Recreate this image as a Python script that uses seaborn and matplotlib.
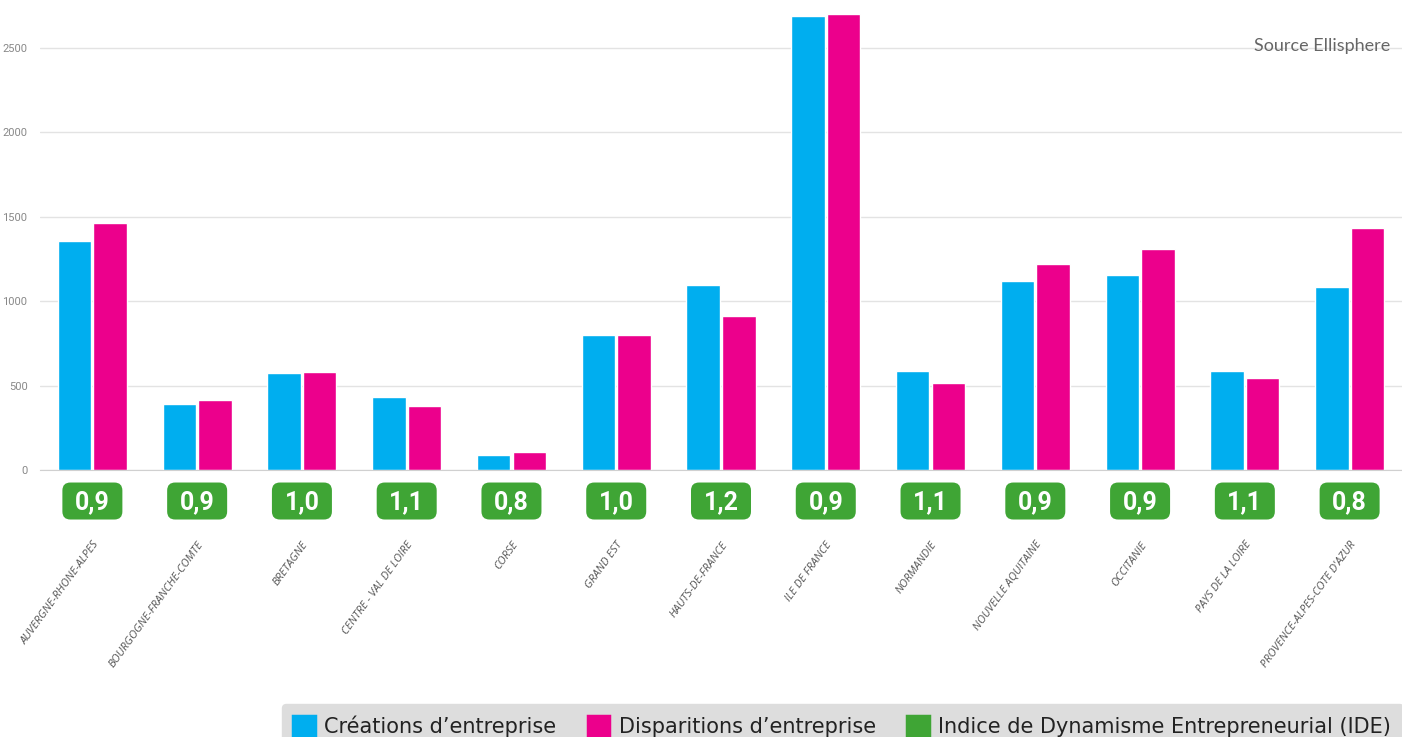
import matplotlib
matplotlib.use("Agg")
import matplotlib.pyplot as plt
from matplotlib.patches import Patch, FancyBboxPatch
from matplotlib.transforms import ScaledTranslation
import seaborn as sns
import pandas as pd

regions = ["AUVERGNE-RHONE-ALPES", "BOURGOGNE-FRANCHE-COMTE", "BRETAGNE",
           "CENTRE - VAL DE LOIRE", "CORSE", "GRAND EST", "HAUTS-DE-FRANCE",
           "ILE DE FRANCE", "NORMANDIE", "NOUVELLE AQUITAINE", "OCCITANIE",
           "PAYS DE LA LOIRE", "PROVENCE-ALPES-COTE D'AZUR"]
creations = [1357, 391, 575, 432, 89, 802, 1096, 2690, 586, 1120, 1155, 586, 1084]
disparitions = [1463, 415, 580, 379, 107, 799, 912, 2701, 515, 1220, 1309, 545, 1434]
ide = ["0,9", "0,9", "1,0", "1,1", "0,8", "1,0", "1,2", "0,9", "1,1", "0,9", "0,9", "1,1", "0,8"]

lab_crea = "Créations d’entreprise"
lab_disp = "Disparitions d’entreprise"
lab_ide = "Indice de Dynamisme Entrepreneurial (IDE)"
c_blue = "#00AEEF"
c_pink = "#EC008C"
c_green = "#3FA535"
narrow = ["Liberation Sans Narrow", "Roboto"]

df = pd.DataFrame({
    "region": regions * 2,
    "valeur": creations + disparitions,
    "serie": [lab_crea] * len(regions) + [lab_disp] * len(regions),
})

sns.set_style("white")
fig = plt.figure(figsize=(14.02, 7.37), dpi=100)
ax = fig.add_axes([40 / 1402, 1 - 470 / 737, 1 - 40 / 1402, 470 / 737])

sns.barplot(data=df, x="region", y="valeur", hue="serie", order=regions,
            palette=[c_blue, c_pink], width=0.68, gap=0.06, ax=ax,
            legend=False, saturation=1)

ax.set_xlim(-0.5, len(regions) - 0.5)
ax.set_ylim(0, 2784)
ax.set_yticks([0, 500, 1000, 1500, 2000, 2500])
ax.grid(axis="y", color="#e3e3e3", linewidth=1)
ax.set_axisbelow(True)
for s in ["top", "right", "left"]:
    ax.spines[s].set_visible(False)
ax.spines["bottom"].set_color("#d0d0d0")
ax.set_xlabel("")
ax.set_ylabel("")
ax.tick_params(axis="y", length=0, pad=9, labelcolor="#888888")
for t in ax.get_yticklabels():
    t.set_family(narrow)
    t.set_fontsize(8)
ax.tick_params(axis="x", length=0, pad=50)
ax.set_xticks(range(len(regions)))
ax.set_xticklabels(regions, rotation=54, ha="right", rotation_mode="anchor",
                   fontsize=8, style="italic", color="#555555", family="Open Sans")

# IDE badges under each group (fixed pixel size, centred under each region)
for i, v in enumerate(ide):
    trans = fig.dpi_scale_trans + ScaledTranslation(i, -0.066, ax.get_xaxis_transform())
    badge = FancyBboxPatch((-0.30, -0.185), 0.60, 0.37,
                           boxstyle="round,pad=0,rounding_size=0.08",
                           fc=c_green, ec="none", transform=trans, clip_on=False)
    ax.add_patch(badge)
    ax.text(i, -0.068, v, transform=ax.get_xaxis_transform(), ha="center", va="center",
            fontsize=18, fontweight="bold", color="white", family=narrow)

fig.text(1390 / 1402, 1 - 46 / 737, "Source Ellisphere", ha="right", va="center",
         fontsize=13, color="#666666", family="Lato")

handles = [Patch(facecolor=c, edgecolor=c, linewidth=2.5, joinstyle="round")
           for c in [c_blue, c_pink, c_green]]
leg = fig.legend(handles, [lab_crea, lab_disp, lab_ide], loc="lower right",
                 bbox_to_anchor=(1.008, -0.03), ncol=3, fontsize=15, frameon=True,
                 facecolor="#dddddd", edgecolor="#dddddd", framealpha=1, fancybox=True,
                 handlelength=1.05, handleheight=1.1, handletextpad=0.45,
                 columnspacing=1.5, borderpad=0.55)
for t in leg.get_texts():
    t.set_color("#222222")

plt.savefig("out.png", dpi=100)
